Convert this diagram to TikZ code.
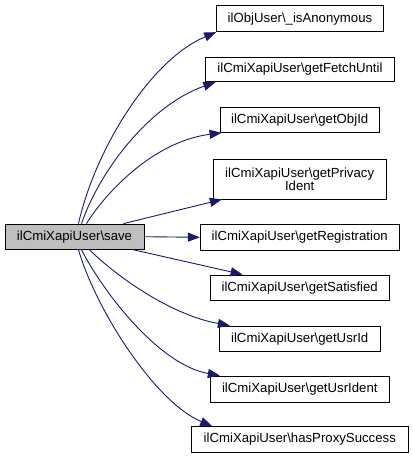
\documentclass[tikz,border=0pt]{standalone}
\usepackage{fontspec}
\setmainfont{Liberation Sans}
\usetikzlibrary{arrows.meta,calc}
\definecolor{edgeblue}{HTML}{191970}
\definecolor{savegray}{HTML}{BFBFBF}
\begin{document}
\begin{tikzpicture}[x=1pt,y=-1pt,
  fbox/.style={draw=black,line width=0.9pt,fill=white,inner sep=0pt,align=center,
    font=\fontsize{13.2}{13.2}\selectfont},
  edge/.style={draw=edgeblue,line width=0.9pt,-{Triangle[length=12pt,width=9pt]},fill=none},
]
\useasboundingbox (0,0) rectangle (413,459);
\node[fbox,minimum width=166.7pt,minimum height=26pt] (anon) at (300,18.7) {ilObjUser\textbackslash\_isAnonymous};
\node[fbox,minimum width=188.3pt,minimum height=24.5pt] (fetch) at (300,69.5) {ilCmiXapiUser\textbackslash getFetchUntil};
\node[fbox,minimum width=159.3pt,minimum height=25pt] (objid) at (299.7,119.8) {ilCmiXapiUser\textbackslash getObjId};
\node[fbox,minimum width=172.7pt,minimum height=40pt] (priv) at (299.7,179) {ilCmiXapiUser\textbackslash getPrivacy\\Ident};
\node[fbox,minimum width=198.7pt,minimum height=25.3pt] (reg) at (299.7,237.3) {ilCmiXapiUser\textbackslash getRegistration};
\node[fbox,fill=savegray,minimum width=139pt,minimum height=25.3pt] (save) at (74.5,236.7) {ilCmiXapiUser\textbackslash save};
\node[fbox,minimum width=179.3pt,minimum height=25.7pt] (sat) at (299.7,287.8) {ilCmiXapiUser\textbackslash getSatisfied};
\node[fbox,minimum width=160.7pt,minimum height=25.7pt] (usrid) at (299.7,338.8) {ilCmiXapiUser\textbackslash getUsrId};
\node[fbox,minimum width=179pt,minimum height=26pt] (usrident) at (299.8,389) {ilCmiXapiUser\textbackslash getUsrIdent};
\node[fbox,minimum width=216.3pt,minimum height=25.6pt] (proxy) at (299.8,439.5) {ilCmiXapiUser\textbackslash hasProxySuccess};

\draw[edge] ($(save.north)+(4,0)$) .. controls (95,150) and (150,60) .. (anon.south west);
\draw[edge] ($(save.north)+(7,0)$) .. controls (100,170) and (150,105) .. ($(fetch.south west)+(10,0)$);
\draw[edge] ($(save.north)+(12,0)$) .. controls (102,198) and (150,142) .. ($(objid.south west)+(2,0)$);
\draw[edge] ($(save.north)+(49,0)$) -- ($(priv.south west)+(9,0)$);
\draw[edge] (save.east) -- (reg.west);
\draw[edge] ($(save.south)+(59,0)$) -- ($(sat.north west)+(33,0)$);
\draw[edge] ($(save.south)+(15,0)$) .. controls (115,275) and (170,315) .. ($(usrid.north west)+(11,0)$);
\draw[edge] ($(save.south)+(7,0)$) .. controls (105,295) and (160,365) .. ($(usrident.north west)+(10,0)$);
\draw[edge] ($(save.south)+(4,0)$) .. controls (96,310) and (155,402) .. ($(proxy.north west)+(21,0)$);
\end{tikzpicture}
\end{document}
